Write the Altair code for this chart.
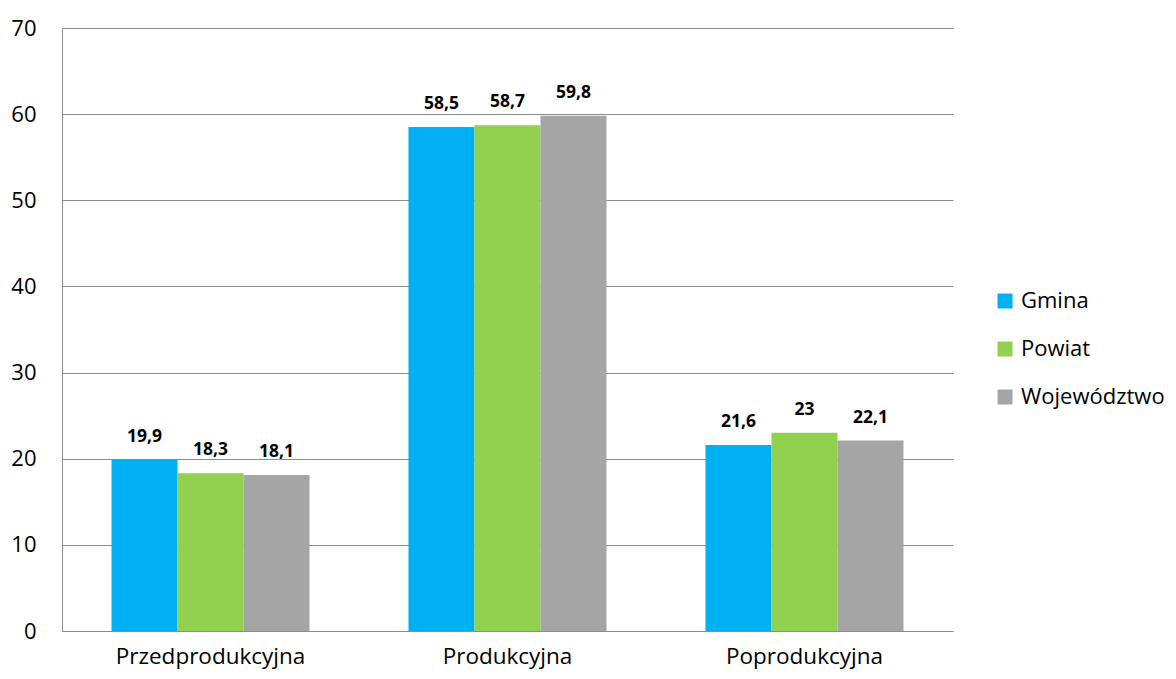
import altair as alt
import pandas as pd

categories = ["Przedprodukcyjna", "Produkcyjna", "Poprodukcyjna"]
series = ["Gmina", "Powiat", "Województwo"]
gmina = [19.9, 58.5, 21.6]
powiat = [18.3, 58.7, 23.0]
wojewodztwo = [18.1, 59.8, 22.1]
colors = ["#00B0F0", "#92D050", "#A5A5A5"]
y_ticks = [0, 10, 20, 30, 40, 50, 60, 70]

rows = []
for s, vals in zip(series, [gmina, powiat, wojewodztwo]):
    for c, v in zip(categories, vals):
        rows.append({"kat": c, "seria": s, "val": v,
                     "lab": f"{v:g}".replace(".", ",")})
df = pd.DataFrame(rows)

FONT = "Open Sans"

x = alt.X("kat:N", sort=categories, title=None,
          scale=alt.Scale(paddingInner=0.3333, paddingOuter=0.1667),
          axis=alt.Axis(labelAngle=0, labelFontSize=22.5, labelFont=FONT,
                        labelColor="#000000", labelPadding=32, labelLimit=0,
                        labelBaseline="alphabetic", ticks=False,
                        domainColor="#8C8C8C", grid=False))
y = alt.Y("val:Q", title=None,
          scale=alt.Scale(domain=[0, 70], nice=False),
          axis=alt.Axis(values=y_ticks, labelFontSize=22, labelFont=FONT,
                        labelColor="#000000", labelPadding=26, ticks=False,
                        domainColor="#8C8C8C", gridColor="#8C8C8C",
                        gridWidth=1))
xo = alt.XOffset("seria:N", sort=series)
color = alt.Color("seria:N", sort=series,
                  scale=alt.Scale(domain=series, range=colors),
                  legend=alt.Legend(title=None, orient="none", legendX=932,
                                    legendY=262, symbolType="square",
                                    symbolSize=225, symbolStrokeWidth=0,
                                    labelFontSize=22, labelFont=FONT,
                                    labelColor="#000000", rowPadding=26,
                                    labelOffset=5, symbolOffset=0,
                                    labelLimit=0))

bars = alt.Chart(df).mark_bar().encode(x=x, y=y, xOffset=xo, color=color)
text = alt.Chart(df).mark_text(baseline="alphabetic", dy=-18, fontSize=17.5,
                               fontWeight="bold", font=FONT,
                               color="#000000").encode(
    x=alt.X("kat:N", sort=categories), y="val:Q", xOffset=xo, text="lab:N")

chart = (bars + text).properties(
    width=891, height=603,
    autosize=alt.AutoSizeParams(type="none"),
    padding={"left": 54, "top": 20, "right": 214, "bottom": 40},
    background="white",
).configure_view(stroke=None)

chart.save("out.html", embed_options={"renderer": "svg", "actions": False})
